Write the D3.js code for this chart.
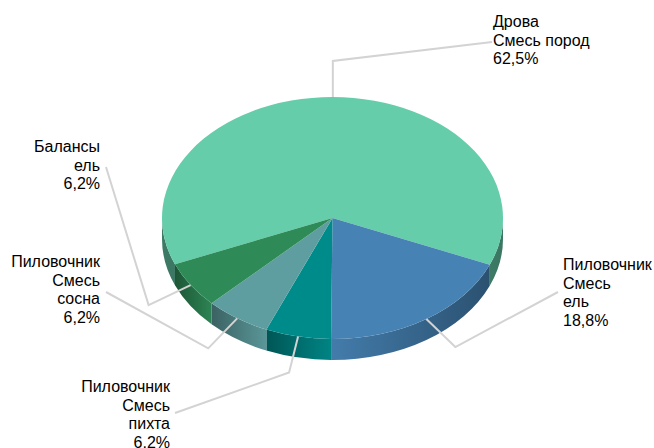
<!DOCTYPE html>
<html>
<head>
<meta charset="utf-8">
<script src="https://cdn.jsdelivr.net/npm/d3@7"></script>
<style>
  body { margin: 0; background: #fff; }
  svg { display: block; }
</style>
</head>
<body>
<svg id="chart" width="654" height="448"></svg>
<script>
// slices in drawing order (clockwise, starting at the left side of the pie)
const categories = [
  ["Дрова", "Смесь пород"],
  ["Пиловочник", "Смесь", "ель"],
  ["Пиловочник", "Смесь", "пихта"],
  ["Пиловочник", "Смесь", "сосна"],
  ["Балансы", "ель"]
];
const shares = [62.5, 18.8, 6.2, 6.2, 6.2];
const valueLabels = ["62,5%", "18,8%", "6,2%", "6,2%", "6,2%"];
const sliceColors = ["#66cdaa", "#4682b4", "#008b8b", "#5f9ea0", "#2e8b57"];

// label layout: text position, alignment, elbow offset from the slice edge point
const labelLayout = [
  { x: 493, y: 27, align: "start", elbow: [0, -36], end: [-1, 15] },
  { x: 563, y: 270, align: "start", elbow: [29, 28], end: [-5, 22] },
  { x: 170, y: 392, align: "end", elbow: [-9, 36], end: [5, 21] },
  { x: 100, y: 267, align: "end", elbow: [-29, 30], end: [6, 25] },
  { x: 100, y: 152, align: "end", elbow: [-42, 20], end: [6, 15] }
];

const cx = 332.5, cy = 218, rx = 170.5, ry = 121, depth = 21;
const lineH = 18.5;

const svg = d3.select("#chart");
const defs = svg.append("defs");

const pie = d3.pie().sort(null)
  .startAngle(-Math.PI * 112.5 / 180)
  .endAngle(-Math.PI * 112.5 / 180 + 2 * Math.PI);
const arcs = pie(shares);

function pt(a, dy) {
  return [cx + rx * Math.sin(a), cy - ry * Math.cos(a) + (dy || 0)];
}

function darker(c, k) {
  const col = d3.rgb(c);
  return d3.rgb(col.r * k, col.g * k, col.b * k).formatHex();
}

// visible (front) parts of the side wall: angles between 90 and 270 degrees
function frontParts(a0, a1) {
  const parts = [];
  const lo = Math.PI / 2, hi = 3 * Math.PI / 2;
  [-2 * Math.PI, 0, 2 * Math.PI].forEach(shift => {
    const s = Math.max(a0, lo + shift), e = Math.min(a1, hi + shift);
    if (e > s + 1e-6) parts.push([s, e]);
  });
  return parts;
}

const sides = svg.append("g");
const tops = svg.append("g");

arcs.forEach((d, i) => {
  const base = sliceColors[i];
  frontParts(d.startAngle, d.endAngle).forEach((p, j) => {
    const p0 = pt(p[0]), p1 = pt(p[1]);
    const b0 = pt(p[0], depth), b1 = pt(p[1], depth);
    // lighter towards the bottom centre of the pie
    const near = Math.abs(p[0] - Math.PI) % (2 * Math.PI) < Math.abs(p[1] - Math.PI) % (2 * Math.PI) ? p0 : p1;
    const far = near === p0 ? p1 : p0;
    const id = "side" + i + "_" + j;
    const g = defs.append("linearGradient")
      .attr("id", id)
      .attr("gradientUnits", "userSpaceOnUse")
      .attr("x1", near[0]).attr("y1", 0)
      .attr("x2", far[0]).attr("y2", 0);
    const span = Math.abs(far[0] - near[0]);
    const kNear = span < 60 && i === 0 ? 0.6 : 0.95;
    g.append("stop").attr("offset", 0).attr("stop-color", darker(base, kNear));
    g.append("stop").attr("offset", 1).attr("stop-color", darker(base, i === 0 ? 0.58 : 0.62));
    sides.append("path")
      .attr("d", `M${p0} A${rx},${ry} 0 0 1 ${p1} L${b1} A${rx},${ry} 0 0 0 ${b0} Z`)
      .attr("fill", `url(#${id})`);
  });
});

arcs.forEach((d, i) => {
  const p0 = pt(d.startAngle), p1 = pt(d.endAngle);
  const large = d.endAngle - d.startAngle > Math.PI ? 1 : 0;
  tops.append("path")
    .attr("d", `M${cx},${cy} L${p0} A${rx},${ry} 0 ${large} 1 ${p1} Z`)
    .attr("fill", sliceColors[i]);
});

// leader lines and labels
const labels = svg.append("g")
  .attr("font-family", "Arial, 'Liberation Sans', sans-serif")
  .attr("font-size", 16)
  .attr("fill", "#000");

arcs.forEach((d, i) => {
  const lay = labelLayout[i];
  const mid = (d.startAngle + d.endAngle) / 2;
  const a = pt(mid);
  const elbow = [a[0] + lay.elbow[0], a[1] + lay.elbow[1]];
  const end = [lay.x + (lay.align === "end" ? lay.end[0] : lay.end[0]), lay.y + lay.end[1]];
  svg.append("path")
    .attr("d", d3.line()([a, elbow, end]))
    .attr("fill", "none")
    .attr("stroke", "#d3d3d3")
    .attr("stroke-width", 2);

  const lines = categories[i].concat([valueLabels[i]]);
  const t = labels.append("text")
    .attr("x", lay.x)
    .attr("y", lay.y)
    .attr("text-anchor", lay.align);
  lines.forEach((s, k) => {
    t.append("tspan")
      .attr("x", lay.x)
      .attr("y", lay.y + k * lineH)
      .text(s);
  });
});
</script>
</body>
</html>
